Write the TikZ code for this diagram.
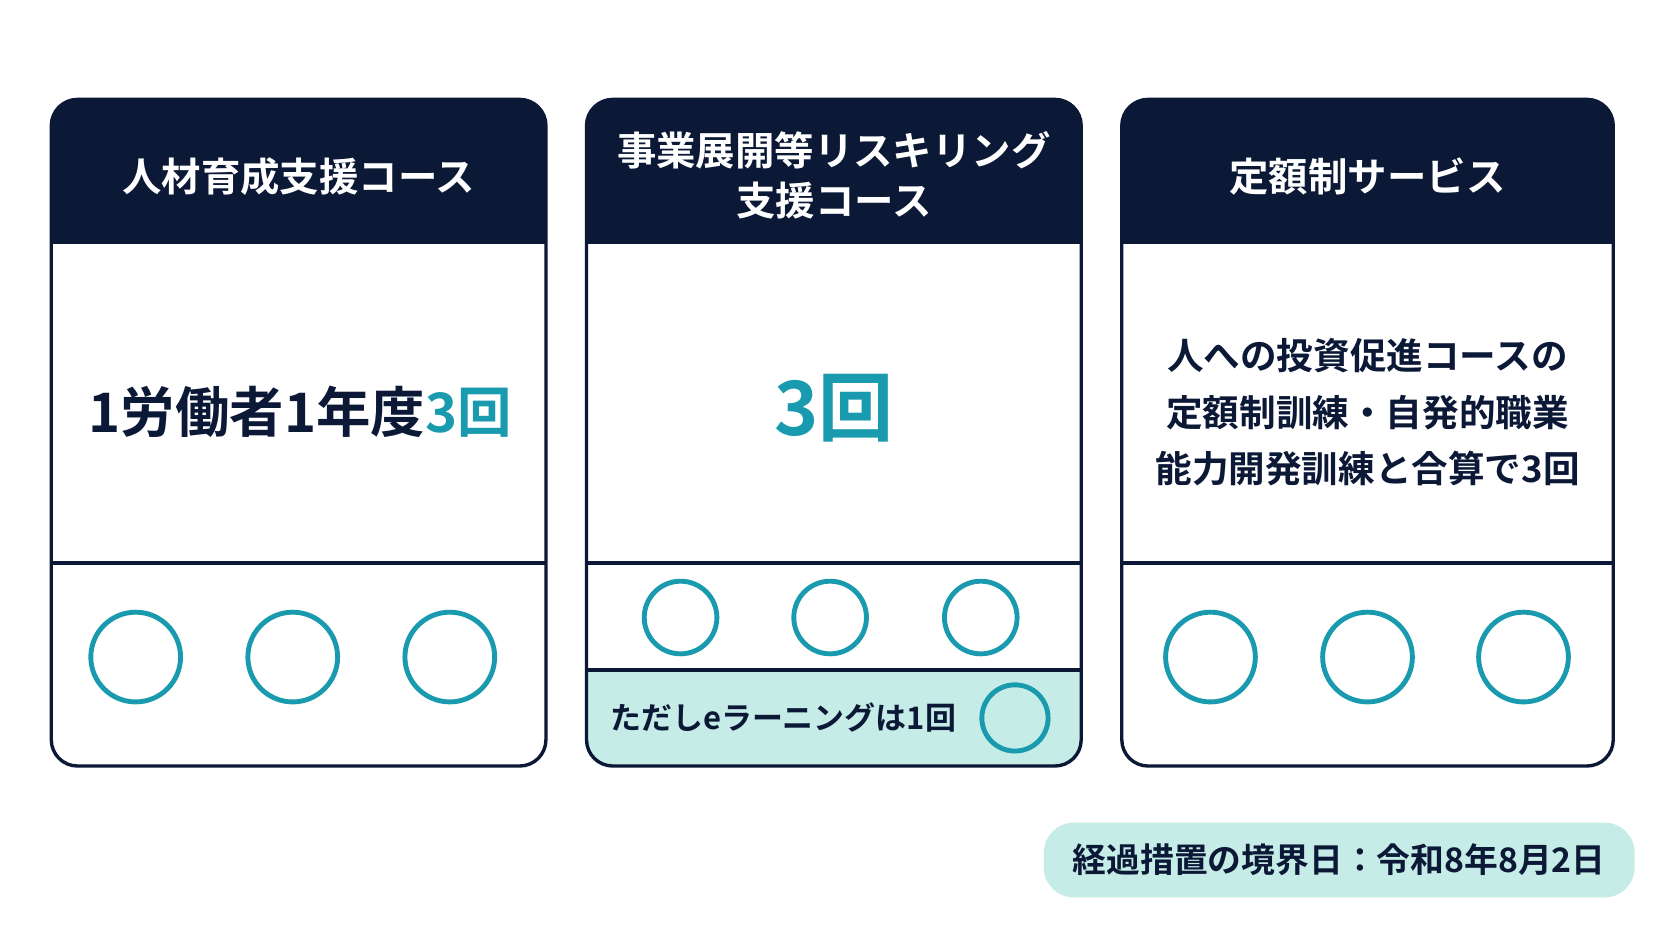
\documentclass[tikz,border=0pt]{standalone}
\usepackage{fontspec}
\setmainfont{Noto Sans CJK JP}[BoldFont={Noto Sans CJK JP Bold}]
\usepackage{xcolor}
\usepackage{tikz}
\usetikzlibrary{positioning, calc}
\definecolor{navy}{HTML}{0B1836}
\definecolor{teal}{HTML}{1A9AAE}
\definecolor{mint}{HTML}{C5ECE6}
\tikzset{
  frame/.style={draw=navy, line width=1.8pt, rounded corners=14},
  head/.style={fill=navy, rounded corners=14},
  headtext/.style={text=white, font=\bfseries\fontsize{21}{27}\selectfont, align=center},
  ring/.style={draw=teal, line width=2.6pt},
  rule/.style={draw=navy, line width=1.8pt}
}
\begin{document}
\begin{tikzpicture}[x=0.02cm, y=-0.02cm]
        \useasboundingbox (0,0) rectangle (1565,881);
        \fill[white] (0,0) rectangle (1565,881);

        % --- Course 1 ---
        \fill[white, rounded corners=14] (48,93) rectangle (511,717);
        \fill[head] (48,93) rectangle (511,228);
        \fill[navy] (48,160) rectangle (511,228);
        \node[headtext] (h1) at (279.5,165) {人材育成支援コース};
        \node[font=\bfseries\fontsize{29}{32}\selectfont, text=navy] (m1) at (281,385)
          {1労働者1年度\textcolor{teal}{3回}};
        \draw[rule] (48,527) -- (511,527);
        \foreach \cx in {127,274,421} \draw[ring] (\cx,615) circle (42);
        \draw[frame] (48,93) rectangle (511,717);

        % --- Course 2 ---
        \fill[white, rounded corners=14] (549,93) rectangle (1012,717);
        \fill[mint, rounded corners=14] (549,600) rectangle (1012,717);
        \fill[white] (549,527) rectangle (1012,627);
        \fill[head] (549,93) rectangle (1012,228);
        \fill[navy] (549,160) rectangle (1012,228);
        \node[headtext] (h2) at (780.5,164) {事業展開等リスキリング\\支援コース};
        \node[font=\bfseries\fontsize{40}{44}\selectfont, text=teal] (m2) at (780.5,382) {3回};
        \draw[rule] (549,527) -- (1012,527);
        \draw[rule] (549,627) -- (1012,627);
        \foreach \cx in {637,777,918} \draw[ring] (\cx,578) circle (34);
        \node[font=\bfseries\fontsize{16.5}{20}\selectfont, text=navy] (el) at (733,672) {ただしeラーニングは1回};
        \draw[ring] (950,672) circle (31);
        \draw[frame] (549,93) rectangle (1012,717);

        % --- Course 3 ---
        \fill[white, rounded corners=14] (1050,93) rectangle (1510,717);
        \fill[head] (1050,93) rectangle (1510,228);
        \fill[navy] (1050,160) rectangle (1510,228);
        \node[headtext] (h3) at (1280,165) {定額制サービス};
        \node[font=\bfseries\fontsize{19.5}{30}\selectfont, text=navy, align=center] (m3) at (1280,386)
          {人への投資促進コースの\\定額制訓練・自発的職業\\能力開発訓練と合算で3回};
        \draw[rule] (1050,527) -- (1510,527);
        \foreach \cx in {1133,1280,1426} \draw[ring] (\cx,615) circle (42);
        \draw[frame] (1050,93) rectangle (1510,717);

        % --- Deadline ---
        \fill[mint, rounded corners=16] (977,770) rectangle (1530,840);
        \node[font=\bfseries\fontsize{18}{22}\selectfont, text=navy] (dl) at (1253.5,805)
          {経過措置の境界日：令和8年8月2日};
\end{tikzpicture}
\end{document}
